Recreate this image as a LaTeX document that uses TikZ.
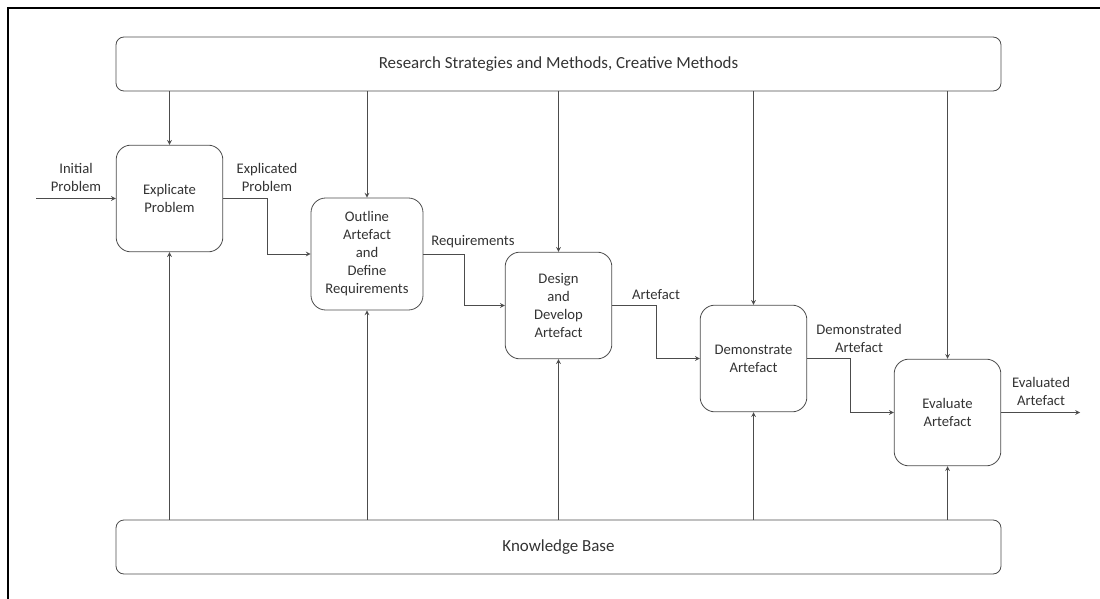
\documentclass[tikz,border=0pt]{standalone}
\usepackage{fontspec}
\setmainfont{Carlito}

\begin{document}
\begin{tikzpicture}[x=0.75pt, y=-0.75pt,
    font=\fontsize{11}{13.5}\selectfont,
    stepbox/.style={rectangle, draw=black!70, line width=0.6pt, rounded corners=11pt,
        minimum width=80pt, minimum height=80pt, align=center, text=black!80},
    bar/.style={rectangle, draw=black!70, line width=0.6pt, rounded corners=6pt,
        minimum width=663.75pt, minimum height=40.5pt, text=black!80,
        font=\fontsize{12.7}{15}\selectfont},
    flow/.style={draw=black!70, line width=0.6pt, -stealth},
    lbl/.style={align=center, text=black!80, inner sep=0pt}]
\useasboundingbox (0,0) rectangle (1100,599);

    % frame
    \draw[line width=2.2pt] (1104,8) -- (8,8) -- (8,603);

    % bars
    \node (rsm) at (558.5,64) [bar] {Research Strategies and Methods, Creative Methods};
    \node (kb) at (558.5,547) [bar] {Knowledge Base};

    % steps
    \node (ep) at (169.5,198.5) [stepbox] {Explicate\\Problem};
    \node (oa) at (367,254) [stepbox, minimum width=84pt, minimum height=84pt] {Outline\\Artefact\\and\\Define\\Requirements};
    \node (dd) at (558.5,305.5) [stepbox] {Design\\and\\Develop\\Artefact};
    \node (da) at (753.5,358.5) [stepbox] {Demonstrate\\Artefact};
    \node (ea) at (947.5,412.5) [stepbox] {Evaluate\\Artefact};

    % methods and knowledge into every step
    \foreach \s in {ep,oa,dd,da,ea} {
        \draw[flow] (rsm.south -| \s.north) -- (\s.north);
        \draw[flow] (kb.north -| \s.south) -- (\s.south);
    }

    % flow of results
    \coordinate (in) at (36,198.5);
    \coordinate (out) at (1080,412.5);
    \draw[flow] (in) -- (ep.west);
    \draw[flow] (ep.east) -- ++(44,0) |- (oa.west);
    \draw[flow] (oa.east) -- ++(41,0) |- (dd.west);
    \draw[flow] (dd.east) -- ++(44,0) |- (da.west);
    \draw[flow] (da.east) -- ++(43.5,0) |- (ea.west);
    \draw[flow] (ea.east) -- (out);

    % results
    \node (lin) at (76,177) [lbl] {Initial\\Problem};
    \node (lexp) at (267,177) [lbl] {Explicated\\Problem};
    \node (lreq) at (473,242) [lbl] {Requirements};
    \node (lart) at (656,295) [lbl] {Artefact};
    \node (ldem) at (859,338) [lbl] {Demonstrated\\Artefact};
    \node (leva) at (1041,391) [lbl] {Evaluated\\Artefact};

\end{tikzpicture}
\end{document}
